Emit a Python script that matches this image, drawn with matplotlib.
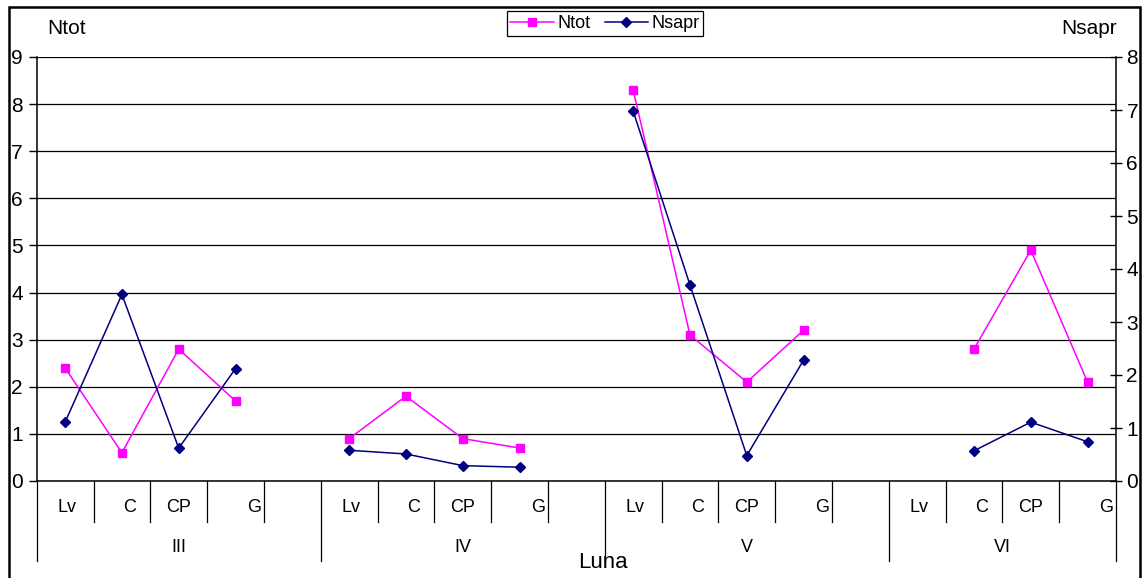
import numpy as np
import matplotlib
matplotlib.use('Agg')
import matplotlib.pyplot as plt
from matplotlib.transforms import blended_transform_factory
from matplotlib.lines import Line2D
from matplotlib.patches import Rectangle

plt.rcParams['font.family'] = ['Liberation Sans', 'DejaVu Sans']

# Luna groups and their categories (blank slot between groups, as in the sheet)
groups = ['III', 'IV', 'V', 'VI']
group_cats = [['Lv', 'C', 'CP', 'G', ''],
              ['Lv', 'C', 'CP', 'G', ''],
              ['Lv', 'C', 'CP', 'G', ''],
              ['Lv', 'C', 'CP', 'G']]

nan = np.nan
ntot = [2.4, 0.6, 2.8, 1.7, nan,
        0.9, 1.8, 0.9, 0.7, nan,
        8.3, 3.1, 2.1, 3.2, nan,
        nan, 2.8, 4.9, 2.1]
nsapr = [1.11, 3.52, 0.62, 2.12, nan,
         0.58, 0.51, 0.29, 0.26, nan,
         6.98, 3.70, 0.48, 2.28, nan,
         nan, 0.57, 1.11, 0.74]

categories = [c for g in group_cats for c in g]
x = np.arange(len(categories))

W, H = 1142, 578
fig = plt.figure(figsize=(W / 100, H / 100), dpi=100)
ax = fig.add_axes([36.7 / W, 1 - 481 / H, (1116 - 36.7) / W, (481 - 57) / H])

ax.plot(x, ntot, color='#FF00FF', marker='s', markersize=6, lw=1.1, label='Ntot', zorder=3)
ax.set_xlim(-0.5, len(categories) - 0.5)
ax.set_ylim(0, 9)
ax.set_yticks(range(10))
ax.set_xticks([])
ax.yaxis.grid(True, color='black', lw=0.9)
ax.set_axisbelow(True)
ax.tick_params(axis='y', labelsize=15, length=6, width=1, pad=4, direction='out')
for s in ['top', 'right']:
    ax.spines[s].set_visible(False)
for s in ['left', 'bottom']:
    ax.spines[s].set_color('black')
    ax.spines[s].set_linewidth(1.1)

ax2 = ax.twinx()
ax2.plot(x, nsapr, color='#000080', marker='D', markersize=5.5, lw=1.1, label='Nsapr', zorder=3)
ax2.set_ylim(0, 8)
ax2.set_yticks(range(9))
ax2.tick_params(axis='y', labelsize=15, length=9, width=1, pad=3, direction='inout')
for s in ['top', 'left', 'bottom']:
    ax2.spines[s].set_visible(False)
ax2.spines['right'].set_linewidth(1.1)

# multi-level category axis
tr = blended_transform_factory(ax.transData, fig.transFigure)
label_shift = {'Lv': 0.03, 'C': 0.14, 'CP': 0.0, 'G': 0.32}
y_row1 = 1 - 522 / H
y_row2 = 1 - 561 / H
pos = 0
for g, cats in zip(groups, group_cats):
    start = pos - 0.5
    for c in cats:
        if c:
            ax.text(pos + label_shift[c], 1 - 508 / H, c, transform=tr,
                    ha='center', va='center', fontsize=13)
        pos += 1
    end = pos - 0.5
    ax.text((start + end) / 2, 1 - 548 / H, g, transform=tr,
            ha='center', va='center', fontsize=13)
    fig.add_artist(Line2D([start, start], [1 - 481 / H, y_row2], transform=tr,
                          color='black', lw=0.9))
    for b in np.arange(start + 1, end):
        fig.add_artist(Line2D([b, b], [1 - 481 / H, y_row1], transform=tr,
                              color='black', lw=0.9))
fig.add_artist(Line2D([end, end], [1 - 481 / H, y_row2], transform=tr,
                      color='black', lw=0.9))

fig.text(603 / W, 1 - 563 / H, 'Luna', ha='center', va='center', fontsize=16)
fig.text(67 / W, 1 - 28 / H, 'Ntot', ha='center', va='center', fontsize=15)
fig.text(1089 / W, 1 - 28 / H, 'Nsapr', ha='center', va='center', fontsize=15)

h1, l1 = ax.get_legend_handles_labels()
h2, l2 = ax2.get_legend_handles_labels()
leg = fig.legend(h1 + h2, l1 + l2, loc='center', bbox_to_anchor=(605 / W, 1 - 23.5 / H),
                 ncol=2, fontsize=13, frameon=True, fancybox=False, framealpha=1,
                 edgecolor='black', borderpad=0.2, handlelength=2.4, handletextpad=0.2,
                 columnspacing=0.8, borderaxespad=0)
leg.get_frame().set_linewidth(0.9)

fig.add_artist(Rectangle((9 / W, -0.01), (1140 - 9) / W, 1.01 - 7 / H,
                         transform=fig.transFigure, fill=False, edgecolor='black', lw=1.8))

fig.savefig('out.png', dpi=100)
